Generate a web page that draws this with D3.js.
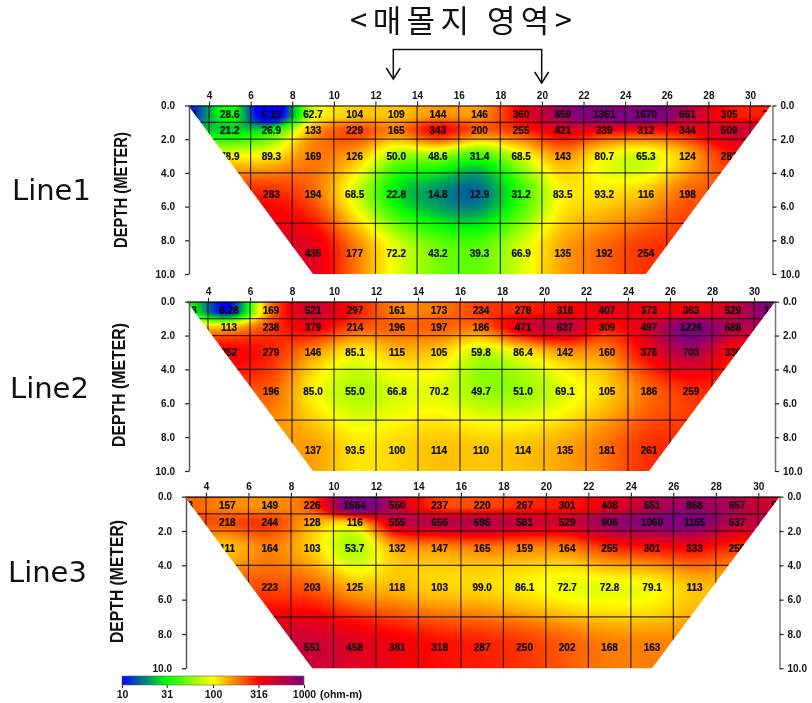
<!DOCTYPE html>
<html><head><meta charset="utf-8">
<script src="https://cdn.jsdelivr.net/npm/d3@7"></script>
<style>
html,body{margin:0;padding:0;background:#fff;width:812px;height:703px;overflow:hidden}
#wrap{position:relative;width:812px;height:703px}
canvas,svg{position:absolute;left:0;top:0}
svg{filter:blur(0.35px)}
text{font-family:"Liberation Sans",Arial,sans-serif}
</style></head><body><div id="wrap"></div>
<script>
// ---- data (apparent resistivity, ohm-m); null = outside the section ----
const columnsX = [3,5,7,9,11,13,15,17,19,21,23,25,27,29,31];
const rowDepths = [0.5,1.5,3,5.3,8.8];
const cellDepths = [0,1,2,4,7,10];
const depthTicks = [0,2,4,6,8,10];
const distanceTicks = [4,6,8,10,12,14,16,18,20,22,24,26,28,30];
const sectionOutline = [[3,0],[31,0],[25,10],[9,10]];
const lineNames = ["Line1","Line2","Line3"];

const line1Row1 = [9.01,28.6,5.19,62.7,104,109,144,146,360,859,1361,1670,661,305,286];
const line1Row2 = [null,21.2,26.9,133,229,165,343,200,255,421,339,312,344,509,null];
const line1Row3 = [null,78.9,89.3,169,126,50.0,48.6,31.4,68.5,143,80.7,65.3,124,281,null];
const line1Row4 = [null,null,283,194,68.5,22.8,14.8,12.9,31.2,83.5,93.2,116,198,null,null];
const line1Row5 = [null,null,null,435,177,72.2,43.2,39.3,66.9,135,192,254,null,null,null];

const line2Row1 = [26.3,8.28,169,521,297,161,173,234,278,318,407,373,363,529,1180];
const line2Row2 = [null,113,238,379,214,196,197,186,471,637,309,497,1226,688,null];
const line2Row3 = [null,352,279,146,85.1,115,105,59.8,86.4,142,160,376,703,330,null];
const line2Row4 = [null,null,196,85.0,55.0,66.8,70.2,49.7,51.0,69.1,105,186,259,null,null];
const line2Row5 = [null,null,null,137,93.5,100,114,110,114,135,181,261,null,null,null];

const line3Row1 = [193,157,149,226,1664,550,237,220,267,301,408,651,868,657,502];
const line3Row2 = [null,218,244,128,116,555,656,696,581,529,906,1060,1165,637,null];
const line3Row3 = [null,111,164,103,53.7,132,147,165,159,164,255,301,333,250,null];
const line3Row4 = [null,null,223,203,125,118,103,99.0,86.1,72.7,72.8,79.1,113,null,null];
const line3Row5 = [null,null,null,551,458,381,318,287,250,202,168,163,null,null,null];

const colorTicks = [10,31,100,316,1000];
const colorStops = ["#0000ff","#00ff00","#ffff00","#ff0000","#800080"];
const fieldStops = [8,25,80,335,1100];

const line1Rows = [line1Row1,line1Row2,line1Row3,line1Row4,line1Row5];
const line2Rows = [line2Row1,line2Row2,line2Row3,line2Row4,line2Row5];
const line3Rows = [line3Row1,line3Row2,line3Row3,line3Row4,line3Row5];

// ---- layout ----
const W=812,H=703;
const panels=[
 {rows:line1Rows,name:lineNames[0],x4:209,x30:750,y0:105.5,y10:274,axL:189,axR:772.5,
  tx:121,tc:190,tl:116,nameX:12,nameY:200},
 {rows:line2Rows,name:lineNames[1],x4:208,x30:754,y0:301.7,y10:471,axL:189,axR:775,
  tx:118.5,tc:385,tl:124,nameX:10,nameY:398},
 {rows:line3Rows,name:lineNames[2],x4:206,x30:758.3,y0:496.7,y10:668.3,axL:186,axR:779.5,
  tx:117,tc:581.5,tl:123,nameX:8,nameY:582}
];

const wrap=d3.select("#wrap");
const canvas=wrap.append("canvas").attr("width",W).attr("height",H).node();
const ctx=canvas.getContext("2d");
const svg=wrap.append("svg").attr("width",W).attr("height",H);

const logScale=d3.scaleLog().domain(d3.extent(colorTicks)).range([0,1]);
const barColor=d3.scaleLog().domain(colorTicks).range(colorStops).interpolate(d3.interpolateRgb).clamp(true);
const fieldColor=d3.scaleLog().domain(fieldStops).range(colorStops).interpolate(d3.interpolateRgb).clamp(true);
const fmt=v=>v>=100?d3.format("d")(v):d3.format(".3r")(v);

// cubic Hermite with finite-difference slopes on a non-uniform grid
function hermite(xs,ys,x){
  const n=xs.length;
  if(x<=xs[0]) return ys[0];
  if(x>=xs[n-1]) return ys[n-1];
  const i=Math.min(d3.bisectRight(xs,x)-1,n-2);
  const h=xs[i+1]-xs[i],t=(x-xs[i])/h;
  const sl=k=>k<=0?0:k>=n-1?0:(ys[k+1]-ys[k-1])/(xs[k+1]-xs[k-1]);
  const m0=sl(i)*h,m1=sl(i+1)*h,t2=t*t,t3=t2*t;
  return (2*t3-3*t2+1)*ys[i]+(t3-2*t2+t)*m0+(-2*t3+3*t2)*ys[i+1]+(t3-t2)*m1;
}
// nearest measured value along a row stands in outside the measured range (render-only)
function logRow(row){
  const idx=row.map((v,i)=>v==null?-1:i).filter(i=>i>=0);
  return row.map((v,i)=>{
    if(v!=null) return Math.log10(v);
    const near=idx.reduce((a,b)=>Math.abs(b-i)<Math.abs(a-i)?b:a);
    return Math.log10(row[near]);
  });
}

panels.forEach(p=>{
  const x=d3.scaleLinear().domain([4,30]).range([p.x4,p.x30]);
  const y=d3.scaleLinear().domain([0,10]).range([p.y0,p.y10]);
  const id="clip"+p.name;
  const outline=d3.line().x(d=>x(d[0])).y(d=>y(d[1]))(sectionOutline)+"Z";

  // colour field on canvas
  const logs=p.rows.map(logRow);
  ctx.save();
  ctx.clip(new Path2D(outline));
  const x0=Math.floor(x(3)),x1=Math.ceil(x(31)),yA=Math.floor(y(0)),yB=Math.ceil(y(10));
  for(let px=x0;px<=x1;px++){
    const xv=x.invert(px+.5);
    const col=logs.map(r=>hermite(columnsX,r,xv));
    for(let py=yA;py<=yB;py++){
      const v=hermite(rowDepths,col,y.invert(py+.5));
      ctx.fillStyle=fieldColor(Math.pow(10,v));
      ctx.fillRect(px,py,1,1);
    }
  }
  ctx.restore();

  const g=svg.append("g");
  g.append("clipPath").attr("id",id).append("path").attr("d",outline);

  // grid
  const grid=g.append("g").attr("clip-path",`url(#${id})`)
     .attr("stroke","#000").attr("stroke-opacity",.75).attr("stroke-width",1.2);
  grid.selectAll("line.v").data(distanceTicks).join("line")
     .attr("x1",d=>x(d)).attr("x2",d=>x(d)).attr("y1",y(0)).attr("y2",y(10));
  grid.selectAll("line.h").data(cellDepths.slice(1,-1)).join("line")
     .attr("x1",x(3)).attr("x2",x(31)).attr("y1",d=>y(d)).attr("y2",d=>y(d));

  // top axis
  const top=g.append("g").attr("transform",`translate(0,${p.y0})`)
     .call(d3.axisTop(x.copy().domain([3,31]).range([x(3),x(31)])).tickValues(distanceTicks).tickSize(4).tickSizeOuter(0).tickPadding(2.5));
  top.select(".domain").attr("stroke","#000").attr("stroke-width",1.2);
  top.selectAll(".tick line").attr("stroke","#222").attr("stroke-width",1.1);
  top.selectAll("text").attr("font-size",10).attr("font-weight",700).attr("fill","#111");

  // left and right depth axes
  const yFmt=d3.format(".1f");
  const left=g.append("g").attr("transform",`translate(${p.axL},0)`)
     .call(d3.axisLeft(y).tickValues(depthTicks).tickFormat(yFmt).tickSize(4).tickSizeOuter(0).tickPadding(10));
  left.select(".domain").attr("stroke","#555").attr("stroke-width",1.5);
  left.selectAll(".tick line").attr("stroke","#222").attr("stroke-width",1.2);
  left.selectAll("text").attr("font-size",10).attr("font-weight",700).attr("fill","#111");
  const right=g.append("g").attr("transform",`translate(${p.axR},0)`)
     .call(d3.axisRight(y).tickValues(depthTicks).tickFormat(yFmt).tickSize(4).tickSizeOuter(0).tickPadding(4));
  right.select(".domain").attr("stroke","#777").attr("stroke-width",1.5);
  right.selectAll(".tick line").attr("stroke","#222").attr("stroke-width",1.2);
  right.selectAll("text").attr("font-size",10).attr("font-weight",700).attr("fill","#111");

  // values
  const labels=[];
  p.rows.forEach((r,ri)=>r.forEach((v,ci)=>{ if(v!=null) labels.push({v,xv:columnsX[ci],d:rowDepths[ri]}); }));
  g.append("g").attr("clip-path",`url(#${id})`).selectAll("text").data(labels).join("text")
    .attr("x",d=>x(d.xv)).attr("y",d=>y(d.d)).attr("dy",".36em").attr("text-anchor","middle")
    .attr("font-size",10).attr("font-weight",700).attr("fill","#0a0a0a")
    .attr("stroke","#0a0a0a").attr("stroke-width",.2).text(d=>fmt(d.v));

  // depth title
  g.append("text").attr("transform",`translate(${p.tx},${p.tc}) rotate(-90)`)
    .attr("text-anchor","middle").attr("dy",".36em")
    .attr("font-size",18).attr("font-weight",700).attr("fill","#111")
    .attr("textLength",p.tl).attr("lengthAdjust","spacingAndGlyphs").text("DEPTH (METER)");

  // line name
  g.append("text").attr("x",p.nameX).attr("y",p.nameY)
    .style("font-family","'DejaVu Sans',sans-serif").attr("font-size",29).attr("fill","#111").text(p.name);
});

// heading and arrow bracket
svg.append("text").attr("x",461).attr("y",32).attr("text-anchor","middle")
  .style("font-family","'Noto Sans CJK KR',sans-serif").attr("font-size",31).attr("font-weight",400)
  .attr("fill","#111").attr("textLength",222).text("<매몰지 영역>");
const bracket=[[393.3,79],[393.3,49.5],[541.7,49.5],[541.7,83]];
svg.append("path").attr("d",d3.line()(bracket)).attr("fill","none").attr("stroke","#111").attr("stroke-width",1.5);
[[393.3,79],[541.7,83]].forEach(([ax,ay])=>{
  svg.append("path").attr("d",d3.line()([[ax-7,ay-11],[ax,ay],[ax+7,ay-11]]))
    .attr("fill","none").attr("stroke","#111").attr("stroke-width",1.5);
});

// colour bar
const barX=d3.scaleLog().domain([10,1000]).range([122,304]);
const defs=svg.append("defs");
const grad=defs.append("linearGradient").attr("id","bar");
colorTicks.forEach(t=>grad.append("stop").attr("offset",logScale(t)).attr("stop-color",barColor(t)));
svg.append("rect").attr("x",122).attr("y",676).attr("width",182).attr("height",9).attr("fill","url(#bar)").attr("stroke","#666").attr("stroke-width",.6);
const barAxis=svg.append("g").attr("transform","translate(0,685)")
  .call(d3.axisBottom(barX).tickValues(colorTicks).tickFormat(d=>d).tickSize(3).tickSizeOuter(0).tickPadding(2.5));
barAxis.select(".domain").remove();
barAxis.selectAll("line").attr("stroke","#222");
barAxis.selectAll("text").attr("font-size",10.5).attr("font-weight",700).attr("fill","#111");
svg.append("text").attr("x",320).attr("y",698).attr("font-size",10.5).attr("font-weight",700).attr("fill","#111").text("(ohm-m)");
</script></body></html>
